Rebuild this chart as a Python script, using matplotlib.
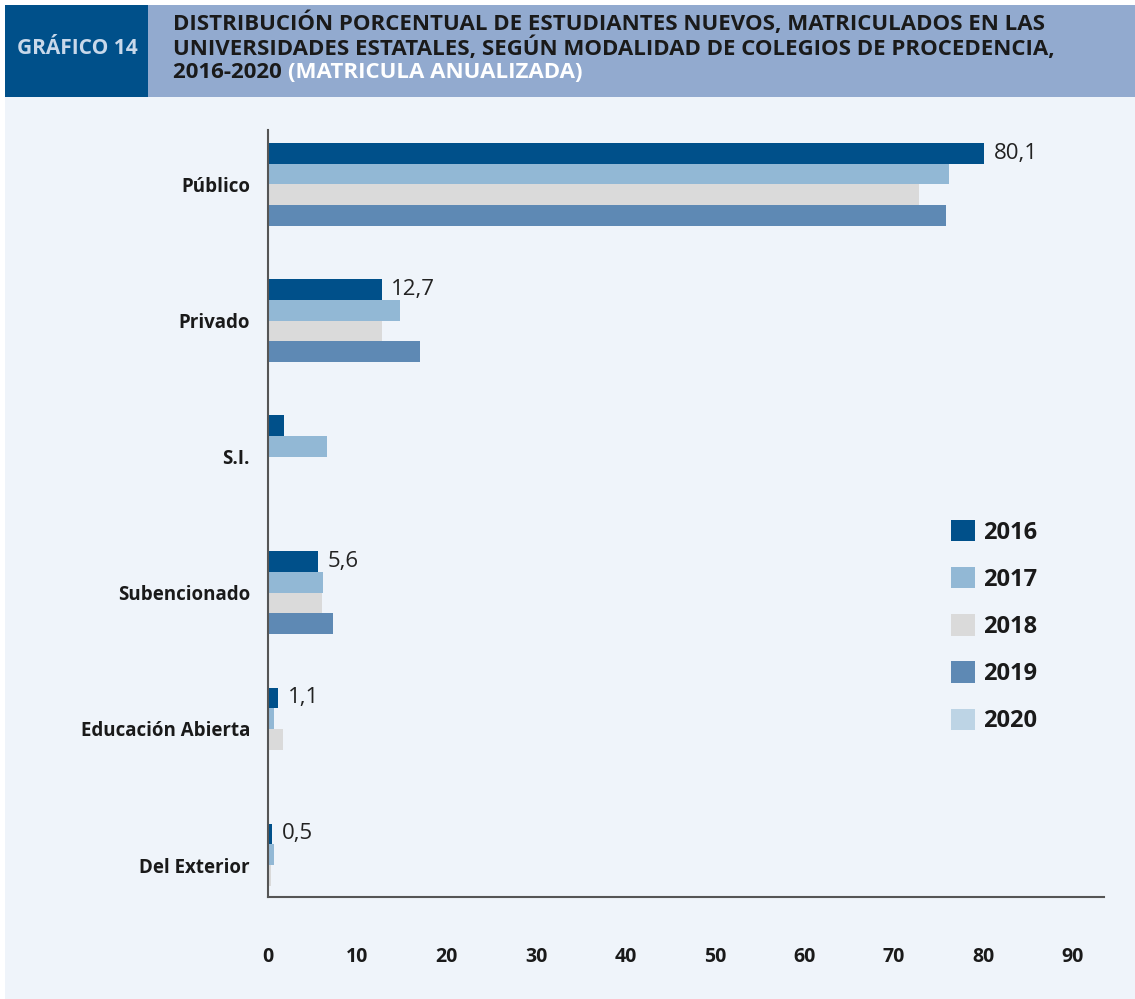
import numpy as np
import matplotlib
matplotlib.use("Agg")
from matplotlib import pyplot as plt
from matplotlib.patches import Rectangle

plt.rcParams['font.family'] = ['Open Sans', 'DejaVu Sans']

categories = ['Público', 'Privado', 'S.I.', 'Subencionado', 'Educación Abierta', 'Del Exterior']
years = ['2016', '2017', '2018', '2019', '2020']
v2016 = [80.1, 12.7, 1.8, 5.6, 1.1, 0.5]
v2017 = [76.2, 14.8, 6.6, 6.2, 0.7, 0.7]
v2018 = [72.8, 12.7, 0.0, 6.0, 1.7, 0.3]
v2019 = [75.8, 17.0, 0.1, 7.3, 0.1, 0.1]
v2020 = [0.0, 0.0, 0.0, 0.0, 0.0, 0.0]
show_label = [True, True, False, True, True, True]
colors = ['#00508A', '#92B8D5', '#DADADA', '#5E89B4', '#BDD4E5']

panel_bg = '#EFF4FA'
fig = plt.figure(figsize=(11.35, 9.99), dpi=100)
fig.patch.set_facecolor('white')

# background panel and header bands
fig.patches.append(Rectangle((5/1135, 0), 1, 1 - 97/999, transform=fig.transFigure,
                             facecolor=panel_bg, edgecolor='none', zorder=-10))
fig.patches.append(Rectangle((148/1135, 1 - 97/999), 1, 92/999, transform=fig.transFigure,
                             facecolor='#92AACF', edgecolor='none', zorder=-9))
fig.patches.append(Rectangle((5/1135, 1 - 97/999), 143/1135, 92/999, transform=fig.transFigure,
                             facecolor='#00508A', edgecolor='none', zorder=-8))
fig.text(77/1135, 1 - 49/999, 'GRÁFICO 14', color='#C8D8EA', fontsize=15, fontweight='bold',
         ha='center', va='center')
tsize = 16
fig.text(173/1135, 1 - 23/999, 'DISTRIBUCIÓN PORCENTUAL DE ESTUDIANTES NUEVOS, MATRICULADOS EN LAS',
         color='#1A1A1A', fontsize=tsize, fontweight='bold', ha='left', va='center')
fig.text(173/1135, 1 - 48/999, 'UNIVERSIDADES ESTATALES, SEGÚN MODALIDAD DE COLEGIOS DE PROCEDENCIA,',
         color='#1A1A1A', fontsize=tsize, fontweight='bold', ha='left', va='center')
t3 = fig.text(173/1135, 1 - 73/999, '2016-2020 ', color='#1A1A1A', fontsize=tsize,
              fontweight='bold', ha='left', va='center')
t4 = fig.text(0, 1 - 73/999, '(MATRICULA ANUALIZADA)', color='white', fontsize=tsize,
              fontweight='bold', ha='left', va='center')
# place the white part right after the dark part
fig.canvas.draw()
bb = t3.get_window_extent()
t4.set_x(bb.x1 / fig.bbox.width)

ax = fig.add_axes([268/1135, 1 - 897/999, (1104 - 268)/1135, (897 - 130)/999])
ax.set_facecolor(panel_bg)

y = np.arange(len(categories))
h = 0.152
series = [v2016, v2017, v2018, v2019, v2020]
for i, (vals, yr, c) in enumerate(zip(series, years, colors)):
    ax.barh(y + (i - 1.5) * h, vals, height=h, color=c, label=yr, zorder=2)

for yi, val, show in zip(y, v2016, show_label):
    if show:
        ax.annotate(f'{val:.1f}'.replace('.', ','), xy=(val, yi - 1.5 * h),
                    xytext=(7, 0), textcoords='offset points', ha='left', va='center',
                    fontsize=16, color='#222222')

ax.set_xlim(0, 93.5)
ax.set_ylim(5.235, -0.40)
ax.set_xticks(range(0, 100, 10))
ax.set_yticks(y)
ax.set_yticklabels(categories)
ax.tick_params(axis='both', length=0, colors='#1A1A1A')
ax.tick_params(axis='x', pad=36, labelsize=14)
ax.tick_params(axis='y', pad=13, labelsize=13.5)
for lab in ax.get_xticklabels() + ax.get_yticklabels():
    lab.set_fontweight('bold')
for s in ['top', 'right']:
    ax.spines[s].set_visible(False)
for s in ['left', 'bottom']:
    ax.spines[s].set_color('#555555')
    ax.spines[s].set_linewidth(1.5)

leg = ax.legend(loc='upper left', bbox_to_anchor=(930/1135, 1 - 499/999),
                bbox_transform=fig.transFigure, frameon=False, fontsize=17,
                handlelength=1.0, handleheight=1.0, handletextpad=0.35, labelspacing=0.95)
for t in leg.get_texts():
    t.set_fontweight('bold')
    t.set_color('#1A1A1A')

plt.savefig('out.png', dpi=100, facecolor=fig.get_facecolor())
